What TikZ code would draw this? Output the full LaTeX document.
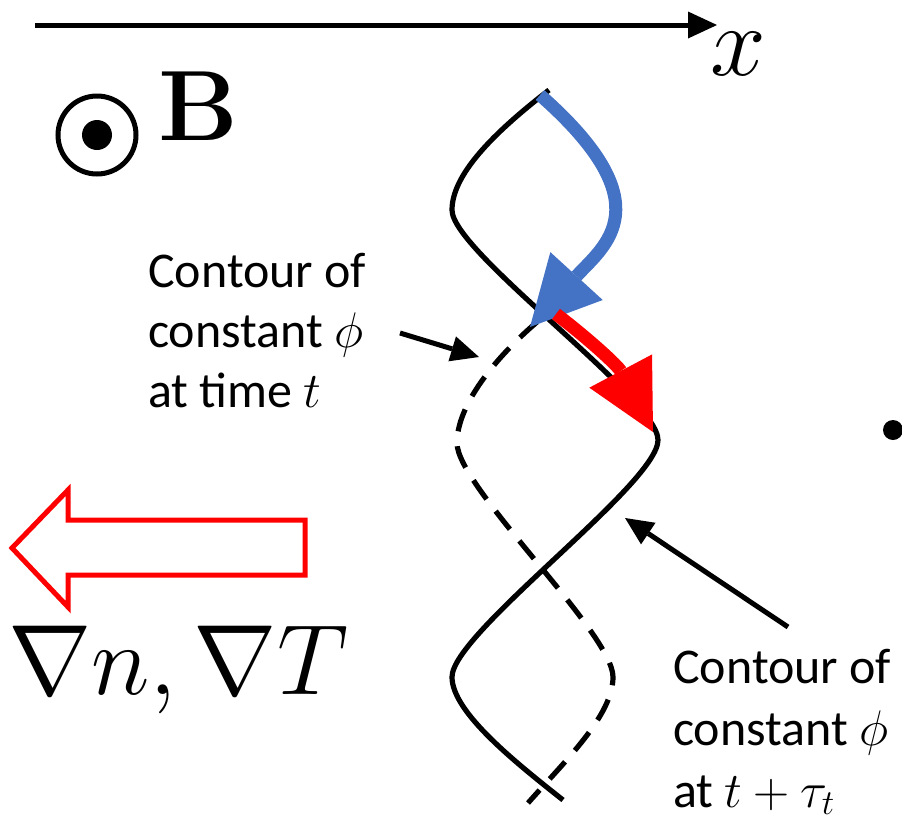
\RequirePackage{fix-cm}
\documentclass[tikz,border=0pt]{standalone}
\usepackage[no-math]{fontspec}
\setmainfont{Carlito}
\usetikzlibrary{arrows.meta}
\definecolor{officeblue}{RGB}{68,114,196}
\definecolor{purered}{RGB}{255,0,0}

\begin{document}
\begin{tikzpicture}[x=1pt,y=-1pt
,lbl/.style={anchor=base west,inner sep=0,font=\fontsize{50}{60}\selectfont}
,bigmath/.style={anchor=base west,inner sep=0,font=\fontsize{100}{120}\selectfont}
,contour/.style={color=black,line width=5.2pt}
,pointer/.style={color=black,line width=5pt,-{Triangle[length=28pt,width=26pt,line width=0pt]}}
,flow/.style={line width=13pt,-{Triangle[length=69pt,width=71pt,line width=0pt]}}
]
\useasboundingbox (0,0) rectangle (902,817);
\clip (0,0) rectangle (902,817);
% x axis and field
\coordinate (axisstart) at (35,25);
\coordinate (axisend) at (717,25);
\draw[pointer,-{Triangle[length=29pt,width=27pt,line width=0pt]}] (axisstart) -- (axisend);
\node[bigmath] (xlabel) at (710,75) {$x$};
\node[circle,draw,line width=5pt,minimum size=78pt,inner sep=0] (bsym) at (97,135) {};
\node[circle,fill,minimum size=30pt,inner sep=0] (bdot) at (bsym.center) {};
\node[bigmath] (bfield) at (158,140) {$\mathbf{B}$};
% gradient arrow
\draw[purered,line width=5pt,miter limit=10] (12,548) -- (68,490) -- (68,520) -- (305,520) -- (305,575) -- (68,575) -- (68,607) -- cycle;
\node[bigmath] (grad) at (8,694) {$\nabla n, \nabla T$};
% contours
\draw[contour] (549,90) .. controls (500,128) and (452,172) .. (452,210) .. controls (452,252) and (658,398) .. (658,440) .. controls (658,484) and (452,633) .. (452,677) .. controls (452,712) and (515,762) .. (563,800);
\draw[contour,dash pattern=on 23pt off 15pt] (537,322) .. controls (495,358) and (457,405) .. (457,443) .. controls (457,487) and (613,633) .. (613,677) .. controls (613,715) and (566,760) .. (528,803);
% flow arrows
\draw[flow,officeblue] (540,95) .. controls (665,205) and (604,246) .. (530,327);
\draw[flow,purered] (556,314) .. controls (590,340) and (618,366) .. (653,432);
\node[circle,fill,minimum size=20pt,inner sep=0] (dot) at (893,430) {};
% labels
\node[lbl] (tl1) at (148,287) {Contour of};
\node[lbl] (tl2) at (148,347) {constant $\phi$};
\node[lbl] (tl3) at (148,407) {at time $t$};
\coordinate (tlfrom) at (400,333);
\coordinate (tlto) at (479,357);
\draw[pointer] (tlfrom) -- (tlto);
\node[lbl] (tr1) at (673,683) {Contour of};
\node[lbl] (tr2) at (673,745) {constant $\phi$};
\node[lbl] (tr3) at (673,807) {at $t+\tau_t$};
\coordinate (trfrom) at (788,627);
\coordinate (trto) at (625,518);
\draw[pointer] (trfrom) -- (trto);
\end{tikzpicture}
\end{document}
